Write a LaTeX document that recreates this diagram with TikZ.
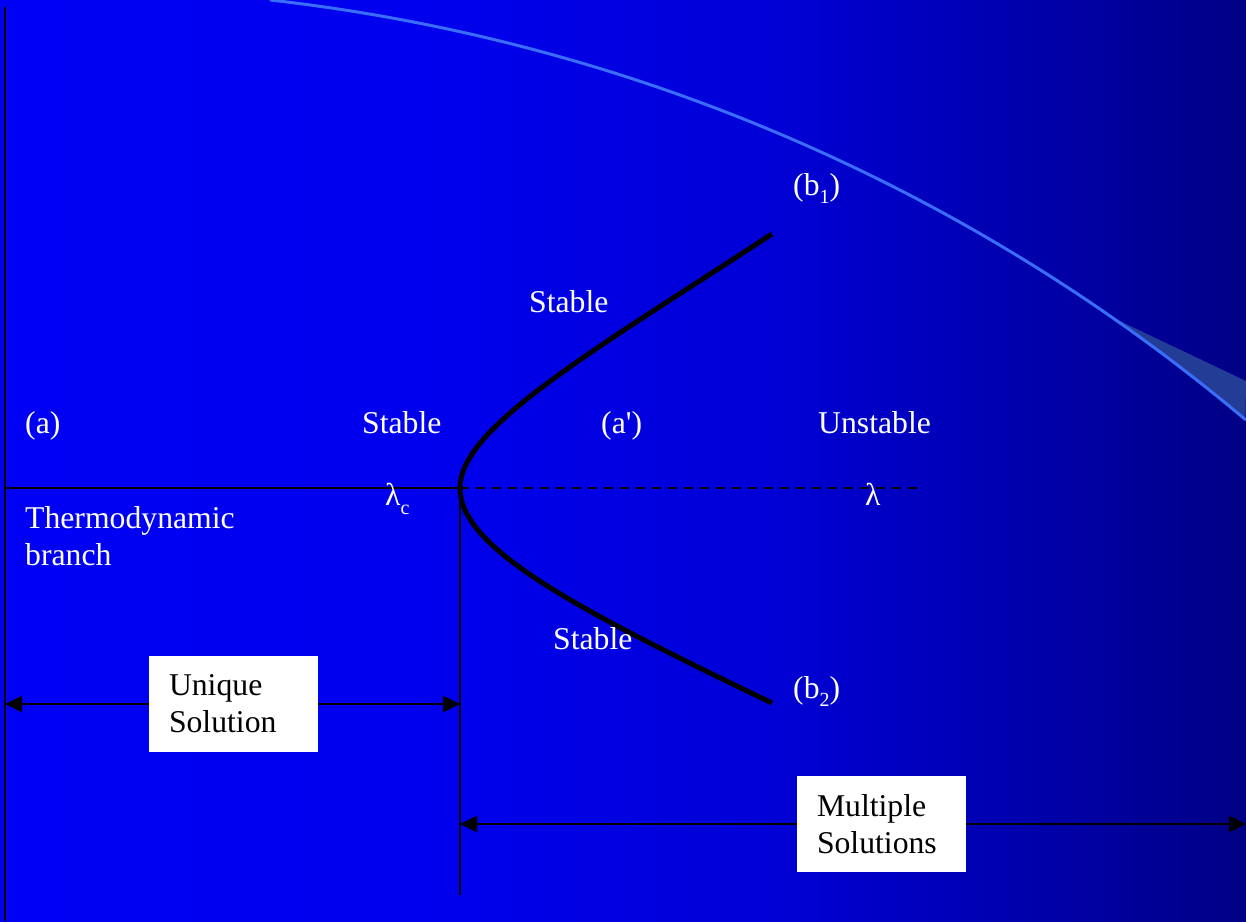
\documentclass[tikz,border=0pt]{standalone}
\usepackage{fontspec}
\setmainfont{Liberation Serif}
\newfontfamily\plainserif{Liberation Serif}
\usetikzlibrary{arrows.meta}
\definecolor{arcblue}{RGB}{58,110,250}
\definecolor{bandblue}{RGB}{35,60,150}
\pgfdeclarehorizontalshading{bgshade}{100bp}{rgb(0bp)=(0,0,0.96); rgb(25bp)=(0,0,0.96); rgb(42.66bp)=(0,0,0.93); rgb(56.3bp)=(0,0,0.835); rgb(67.13bp)=(0,0,0.66); rgb(75bp)=(0,0,0.52); rgb(100bp)=(0,0,0.52)}
\newcommand\subtxt[2][-8pt]{\raisebox{#1}{\fontsize{20}{20}\selectfont #2}}
\begin{document}
\begin{tikzpicture}[x=1pt,y=-1pt,
  lbl/.style={text=white, font=\fontsize{31.7}{37}\selectfont, anchor=base west, inner sep=0pt},
  axisline/.style={line width=2.6pt, black},
  branchline/.style={line width=5pt, black},
  dimline/.style={line width=2.6pt, black, {Triangle[length=17pt,width=16pt]}-{Triangle[length=17pt,width=16pt]}},
  solbox/.style={fill=white, text=black, align=left, inner xsep=20pt, inner ysep=0pt, text width=129pt, minimum height=96pt, font=\fontsize{31.7}{37}\selectfont}]
\useasboundingbox (0,0) rectangle (1246,921);
\clip (0,0) rectangle (1246,921);
\shade[shading=bgshade] (0,0) rectangle (1246,921);
% decorative arc
\fill[bandblue] (1112,317.3) arc[start angle=-55.14, end angle=-49.89, radius=1835] -- (1246,381) -- cycle;
\draw[arcblue, line width=3pt] (270,0) arc[start angle=-83.54, end angle=-49.89, radius=1835];
% coordinates
\coordinate (top) at (5,7);
\coordinate (bot) at (5,921);
\coordinate (O) at (5,488);
\coordinate (C) at (460,488);
\coordinate (Dend) at (918,488);
\coordinate (Cb) at (460,895);
\coordinate (U1) at (5,704);
\coordinate (U2) at (460,704);
\coordinate (M1) at (460,824);
\coordinate (M2) at (1246,824);
\coordinate (B1) at (772,234);
\coordinate (B2) at (772,703);
% axes
\draw[axisline] (top) -- (bot);
\draw[axisline] (O) -- (C);
\draw[axisline, dash pattern=on 9pt off 7pt] (C) -- (Dend);
\draw[axisline] (C) -- (Cb);
% bifurcation branches
\draw[branchline] (B1) .. controls (588,354) and (460,428) .. (C) .. controls (460,548) and (574,608) .. (B2);
% dimension arrows
\draw[dimline] (U1) -- (U2);
\draw[dimline] (M1) -- (M2);
% labels
\node[lbl] (a) at (25,433) {(a)};
\node[lbl] (st1) at (362,433) {Stable};
\node[lbl] (ap) at (601,433) {(a{\plainserif '})};
\node[lbl] (unst) at (818,433) {Unstable};
\node[lbl] (stu) at (529,312) {Stable};
\node[lbl] (stl) at (553,649) {Stable};
\node[lbl] (b1) at (793,195) {(b\subtxt{1})};
\node[lbl] (b2) at (793,698) {(b\subtxt{2})};
\node[lbl] (lc) at (385,505) {λ\subtxt[-9pt]{c}};
\node[lbl] (l) at (865,505) {λ};
\node[lbl] (thermo) at (25,528) {Thermodynamic};
\node[lbl] (branch) at (25,565) {branch};
% boxes
\node[solbox] (uniq) at (233.5,704) {Unique\\Solution};
\node[solbox] (mult) at (881.5,824) {Multiple\\Solutions};
\end{tikzpicture}
\end{document}
